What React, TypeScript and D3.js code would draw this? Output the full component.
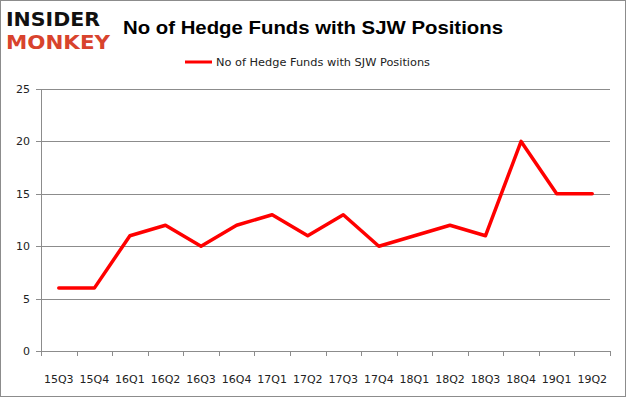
import React from 'react'
import * as d3 from 'd3'

const quarters = ['15Q3', '15Q4', '16Q1', '16Q2', '16Q3', '16Q4', '17Q1', '17Q2', '17Q3', '17Q4', '18Q1', '18Q2', '18Q3', '18Q4', '19Q1', '19Q2']
const funds = [6, 6, 11, 12, 10, 12, 13, 11, 13, 10, 11, 12, 11, 20, 15, 15]
const yTicks = [0, 5, 10, 15, 20, 25]

const title = 'No of Hedge Funds with SJW Positions'
const seriesName = 'No of Hedge Funds with SJW Positions'

const App = () => {
    const ref = React.useRef<SVGSVGElement>(null)

    React.useEffect(() => {
        const width = 626
        const height = 397
        const svg = d3.select(ref.current)
        svg.selectAll('*').remove()

        const margin = { top: 89, right: 16, bottom: 46, left: 41 }
        const innerWidth = width - margin.left - margin.right
        const innerHeight = height - margin.top - margin.bottom

        // outer frame
        svg.append('rect')
            .attr('x', 0.5).attr('y', 0.5)
            .attr('width', width - 1).attr('height', height - 1)
            .attr('fill', 'white')
            .attr('stroke', '#8c8c8c')

        // logo
        const logo = svg.append('g').attr('transform', 'scale(1,1.25)')
        logo.append('text')
            .attr('x', 6).attr('y', 20.8)
            .attr('textLength', 94).attr('lengthAdjust', 'spacingAndGlyphs')
            .style('font-family', 'DejaVu Sans').style('font-weight', 'bold')
            .style('font-size', '16px').attr('fill', '#111')
            .text('INSIDER')
        logo.append('text')
            .attr('x', 6).attr('y', 39.6)
            .attr('textLength', 104).attr('lengthAdjust', 'spacingAndGlyphs')
            .style('font-family', 'DejaVu Sans').style('font-weight', 'bold')
            .style('font-size', '16px').attr('fill', '#d8432d')
            .text('MONKEY')

        // title
        svg.append('text')
            .attr('x', 313).attr('y', 34)
            .attr('text-anchor', 'middle')
            .style('font-family', 'Liberation Sans, Arial, sans-serif')
            .style('font-weight', 'bold').style('font-size', '19px')
            .attr('textLength', 380).attr('lengthAdjust', 'spacingAndGlyphs')
            .text(title)

        // legend
        svg.append('line')
            .attr('x1', 185).attr('x2', 212).attr('y1', 62).attr('y2', 62)
            .attr('stroke', '#ff0000').attr('stroke-width', 3)
        svg.append('text')
            .attr('x', 216).attr('y', 66)
            .style('font-family', 'DejaVu Sans, sans-serif').style('font-size', '11px')
            .attr('textLength', 214).attr('lengthAdjust', 'spacingAndGlyphs')
            .attr('fill', '#222')
            .text(seriesName)

        const g = svg.append('g')
            .attr('transform', 'translate(' + margin.left + ',' + margin.top + ')')

        const xScale = d3.scaleBand().domain(quarters).range([0, innerWidth])
        const yScale = d3.scaleLinear().domain([0, 25]).range([innerHeight, 0])

        // gridlines
        g.selectAll('.grid')
            .data(yTicks.filter((d) => d > 0))
            .enter()
            .append('line')
            .attr('x1', 0).attr('x2', innerWidth)
            .attr('y1', (d) => Math.round(yScale(d)) + 0.5)
            .attr('y2', (d) => Math.round(yScale(d)) + 0.5)
            .attr('stroke', '#8c8c8c')

        // axes
        g.append('line')
            .attr('x1', 0.5).attr('x2', 0.5).attr('y1', 0).attr('y2', innerHeight)
            .attr('stroke', '#8c8c8c')
        g.append('line')
            .attr('x1', 0).attr('x2', innerWidth)
            .attr('y1', Math.round(innerHeight) + 0.5).attr('y2', Math.round(innerHeight) + 0.5)
            .attr('stroke', '#8c8c8c')

        // y ticks and labels
        yTicks.forEach((t) => {
            const y = Math.round(yScale(t)) + 0.5
            g.append('line').attr('x1', -5).attr('x2', 0).attr('y1', y).attr('y2', y).attr('stroke', '#8c8c8c')
            g.append('text')
                .attr('x', -11).attr('y', y).attr('dy', '0.35em')
                .attr('text-anchor', 'end')
                .style('font-family', 'DejaVu Sans, sans-serif').style('font-size', '11px')
                .attr('fill', '#222')
                .text(t)
        })

        // x ticks and labels
        const tickXs = quarters.map((q) => xScale(q) as number).concat([innerWidth])
        tickXs.forEach((x) => {
            const xx = Math.round(x) + 0.5
            g.append('line').attr('x1', xx).attr('x2', xx)
                .attr('y1', innerHeight).attr('y2', innerHeight + 5)
                .attr('stroke', '#8c8c8c')
        })
        g.selectAll('.x-label')
            .data(quarters)
            .enter()
            .append('text')
            .attr('x', (d) => (xScale(d) as number) + xScale.bandwidth() / 2)
            .attr('y', innerHeight + 32)
            .attr('text-anchor', 'middle')
            .style('font-family', 'DejaVu Sans, sans-serif').style('font-size', '11px')
            .attr('fill', '#222')
            .text((d) => d)

        // series line
        const line = d3.line<number>()
            .x((d, i) => (xScale(quarters[i]) as number) + xScale.bandwidth() / 2)
            .y((d) => yScale(d))

        g.append('path')
            .datum(funds)
            .attr('d', line)
            .attr('fill', 'none')
            .attr('stroke', '#ff0000')
            .attr('stroke-width', 3.5)
            .attr('stroke-linejoin', 'round')
            .attr('stroke-linecap', 'round')
    }, [])

    return (
        <svg ref={ref} width={626} height={397} style={{ display: 'block', position: 'absolute', left: 0, top: 0 }}></svg>
    )
}

export default App
